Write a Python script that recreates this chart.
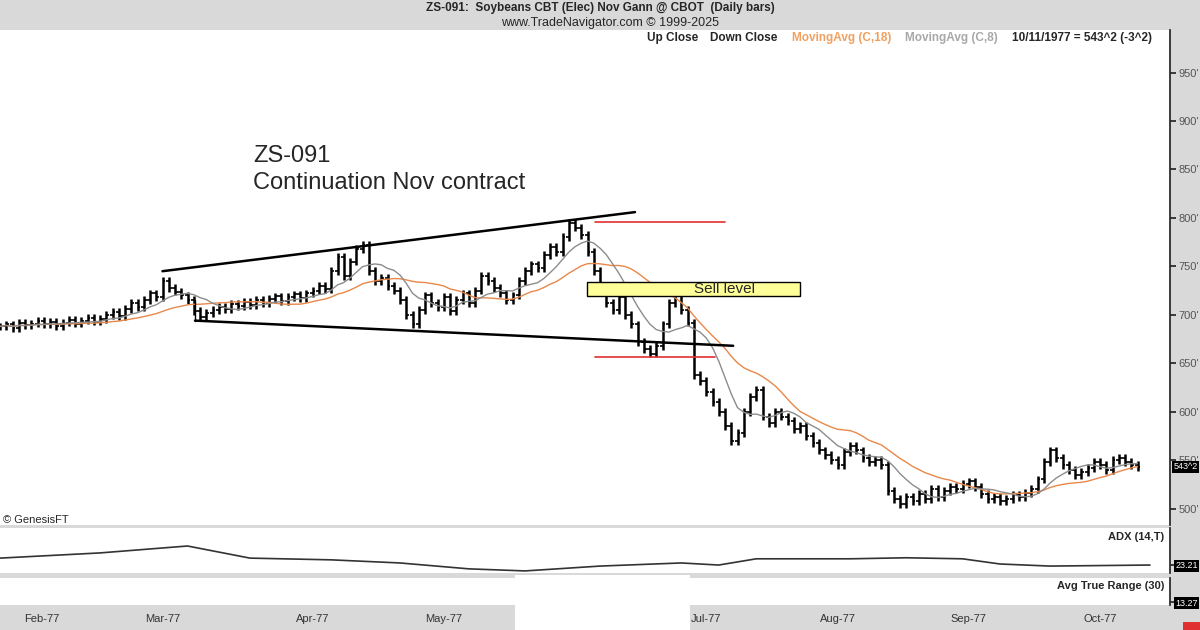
import numpy as np, pandas as pd, matplotlib
matplotlib.use("Agg")
import matplotlib.pyplot as plt, seaborn as sns
from matplotlib.patches import Rectangle

sns.set_theme(style="white")
plt.rcParams['font.family'] = ['Liberation Sans', 'DejaVu Sans']

closes = [688,690,686,692,689,691,694,690,693,688,692,695,691,694,697,693,696,
 700,703,699,706,712,708,715,722,718,735,
 728,724,720,715,704,698,
 702,705,708,706,711,709,713,710,715,712,716,719,714,718,721,717,
 722,725,730,727,745,760,
 740,755,768,772,745,735,
 738,730,725,715,700,690,
 705,720,712,708,718,704,715,722,712,725,
 740,735,728,722,715,720,735,745,752,
 748,762,770,765,780,795,790,
 782,765,745,728,
 712,705,718,700,690,672,665,660,
 668,690,712,720,705,692,
 638,632,620,610,600,585,570,578,
 600,615,622,595,588,600,
 595,590,582,585,575,568,560,555,550,545,
 558,565,560,552,548,550,545,518,
 510,505,512,508,515,510,520,512,518,522,
 520,525,528,522,515,510,512,508,510,514,
 512,516,520,530,548,560,552,545,540,535,
 538,542,548,545,540,550,552,548,545,543]
adx_idx = [0,16,30,40,53,64,75,84,96,109,115,121,136,145,154,160,168,184]
adx_val = [43,58,78,43,38,29,12,6,20,29,23,41,41,44,41,26,20,23]
month_labels = ["Feb-77","Mar-77","Apr-77","May-77","Jul-77","Aug-77","Sep-77","Oct-77"]
month_pos = [6.7,26,50,71,113,134,155,176]

n = len(closes)
c = np.array(closes, float)
o = np.r_[c[0], c[:-1]]
hi = np.maximum(o, c) + 4
lo = np.minimum(o, c) - 4
idx = np.arange(n)
df = pd.DataFrame({"i": idx, "c": c, "ma18": pd.Series(c).rolling(18, min_periods=1).mean(),
                   "ma8": pd.Series(c).rolling(8, min_periods=1).mean()})

fig = plt.figure(figsize=(12, 6.3), dpi=100)
fig.patch.set_facecolor("#d9d9d9")
W, H = 1200, 630
def box(x0, y0, x1, y1):
    return [x0/W, 1-y1/H, (x1-x0)/W, (y1-y0)/H]

XL = (0, 187.2)
ax = fig.add_axes(box(0, 30, 1170, 525))
ax.set_xlim(XL); ax.set_ylim(483, 994)
ax.vlines(idx, lo, hi, color="black", lw=1.8)
ax.hlines(o, idx-0.45, idx, color="black", lw=1.2)
ax.hlines(c, idx, idx+0.45, color="black", lw=1.2)
sns.lineplot(data=df, x="i", y="ma18", ax=ax, color="#e8884a", lw=1)
sns.lineplot(data=df, x="i", y="ma8", ax=ax, color="#8c8c8c", lw=1)
ax.plot([26, 101.6], [745, 806], color="black", lw=1.8)
ax.plot([31.2, 117.3], [694, 668], color="black", lw=1.8)
ax.plot([31.2, 31.2], [694, 715], color="black", lw=1)
ax.plot([95.2, 116], [796, 796], color="#e03030", lw=1.2)
ax.plot([95.2, 114.4], [656, 656], color="#e03030", lw=1.2)
ax.add_patch(Rectangle((93.9, 719), 34.1, 15, facecolor="#ffff99", edgecolor="black", lw=1, zorder=3))
ax.text(111, 726.5, "Sell level", fontsize=11, va="center", zorder=4)
ax.text(40.5, 850, "ZS-091\nContinuation Nov contract", fontsize=17, va="center", linespacing=1.3)
ax.text(0.5, 485, "© GenesisFT", fontsize=8)
ax.yaxis.tick_right()
ax.set_yticks(range(500, 951, 50))
ax.set_yticklabels([f"{v}'" for v in range(500, 951, 50)], fontsize=8, color="#555")
ax.tick_params(axis="y", length=4, direction="out", pad=2, right=True)
ax.set_xticks([]); ax.set_xlabel(""); ax.set_ylabel("")
for s in ["top", "left", "bottom"]:
    ax.spines[s].set_visible(False)
ax.text(1.003, 543, "543^2", transform=ax.get_yaxis_transform(), fontsize=6.5, color="white",
        va="center", bbox=dict(fc="black", ec="none", pad=1), zorder=5)
fig.text(647/W, 1-38/H, "Up Close", fontsize=8.5, weight="bold", va="center")
fig.text(710/W, 1-38/H, "Down Close", fontsize=8.5, weight="bold", va="center")
fig.text(792/W, 1-38/H, "MovingAvg (C,18)", fontsize=8.5, weight="bold", color="#f0a060", va="center")
fig.text(905/W, 1-38/H, "MovingAvg (C,8)", fontsize=8.5, weight="bold", color="#a8a8a8", va="center")
fig.text(1012/W, 1-38/H, "10/11/1977 = 543^2 (-3^2)", fontsize=8.5, weight="bold", va="center")
fig.text(600/W, 1-8/H, "ZS-091:  Soybeans CBT (Elec) Nov Gann @ CBOT  (Daily bars)", fontsize=8.5,
         weight="bold", ha="center", va="center")
fig.text(610/W, 1-23/H, "www.TradeNavigator.com © 1999-2025", fontsize=9, ha="center", va="center")

ax2 = fig.add_axes(box(0, 528, 1170, 573))
ax2.set_xlim(XL); ax2.set_ylim(0, 130)
sns.lineplot(x=adx_idx, y=adx_val, ax=ax2, color="#333", lw=1.2)
ax2.text(0.995, 0.92, "ADX (14,T)", transform=ax2.transAxes, fontsize=8, ha="right", va="top", weight="bold")
ax2.yaxis.tick_right(); ax2.set_yticks([23.21]); ax2.set_yticklabels(["23.21"], fontsize=6.5, color="white",
    bbox=dict(fc="black", ec="none", pad=1))
ax2.tick_params(axis="y", pad=1, length=3)
ax2.set_xticks([])
for s in ["top", "left", "bottom"]:
    ax2.spines[s].set_visible(False)

ax3 = fig.add_axes(box(0, 578, 1170, 605))
ax3.set_xlim(XL); ax3.set_ylim(0, 1)
ax3.text(0.995, 0.9, "Avg True Range (30)", transform=ax3.transAxes, fontsize=8, ha="right", va="top", weight="bold")
ax3.yaxis.tick_right(); ax3.set_yticks([0.1]); ax3.set_yticklabels(["13.27"], fontsize=6.5, color="white",
    bbox=dict(fc="black", ec="none", pad=1))
ax3.tick_params(axis="y", pad=1, length=3)
ax3.set_xticks([])
for s in ["top", "left", "bottom"]:
    ax3.spines[s].set_visible(False)

ax4 = fig.add_axes(box(0, 606, 1170, 630))
ax4.set_facecolor("#d9d9d9")
ax4.set_xlim(XL); ax4.set_ylim(0, 1)
ax4.set_yticks([]); ax4.set_xticks([])
for p, l in zip(month_pos, month_labels):
    ax4.text(p, 0.45, l, fontsize=8, ha="center", va="center", color="#333")
for s in ax4.spines.values():
    s.set_visible(False)
fig.patches.append(Rectangle((515/W, 0), 175/W, 55/H, transform=fig.transFigure, fc="white", ec="none", zorder=10))
fig.patches.append(Rectangle((1183/W, 0), 17/W, 8/H, transform=fig.transFigure, fc="#e03030", ec="none"))
fig.savefig("out.png", dpi=100, facecolor=fig.get_facecolor())
